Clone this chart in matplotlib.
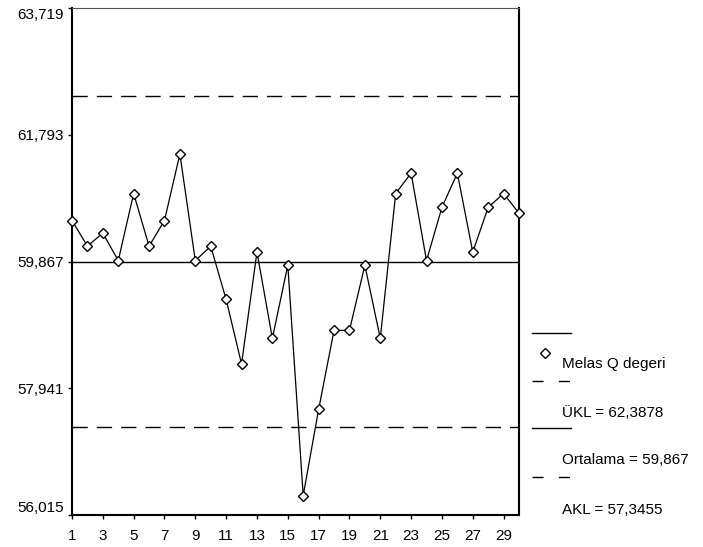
import numpy as np
import matplotlib.pyplot as plt
from matplotlib.lines import Line2D

plt.rcParams["font.family"] = ["Liberation Sans", "DejaVu Sans"]

# Melas Q değerleri (okunan)
orneklem = list(range(1, 31))
q_degeri = [60.49, 60.10, 60.30, 59.88, 60.90, 60.10, 60.49, 61.50, 59.88, 60.10,
            59.29, 58.31, 60.01, 58.70, 59.81, 56.31, 57.62, 58.82, 58.82, 59.81,
            58.70, 60.90, 61.21, 59.88, 60.69, 61.21, 60.01, 60.69, 60.90, 60.60]
ukl = 62.3878
ortalama = 59.867
akl = 57.3455
y_ticks = [56.015, 57.941, 59.867, 61.793, 63.719]
x_ticks = list(range(1, 30, 2))
legend_labels = ["Melas Q degeri", "ÜKL = 62,3878", "Ortalama = 59,867", "AKL = 57,3455"]

W, H = 703, 547
fig = plt.figure(figsize=(W / 100, H / 100), dpi=100)
ax = fig.add_axes([72 / W, 1 - 515 / H, (519 - 72) / W, (515 - 8) / H])

ax.plot(orneklem, q_degeri, color="black", lw=0.9, marker="D", markersize=5,
        markerfacecolor="white", markeredgecolor="black", markeredgewidth=1.0,
        zorder=3, clip_on=False)
ax.axhline(ortalama, color="black", lw=1.0)
ax.axhline(ukl, color="black", lw=1.0, dashes=(11, 6.5))
ax.axhline(akl, color="black", lw=1.0, dashes=(11, 6.5))

ax.set_xlim(1, 30)
ax.set_ylim(56.015, 63.719)
ax.set_xticks(x_ticks)
ax.set_xticklabels([str(x) for x in x_ticks])
ax.set_yticks(y_ticks)
ax.set_yticklabels([("%.3f" % v).replace(".", ",") for v in y_ticks])
ax.tick_params(direction="out", length=3, width=1, labelsize=11, pad=3)
ax.tick_params(axis="x", pad=7)
ylabs = ax.get_yticklabels()
ylabs[0].set_va("bottom")
ylabs[-1].set_va("top")

for s in ["left", "bottom", "right"]:
    ax.spines[s].set_linewidth(1.5)
ax.spines["top"].set_linewidth(0.8)
ax.spines["top"].set_color("#555555")

# legend drawn by hand (SPSS style)
def fx(px):
    return px / W

def fy(py):
    return 1 - py / H

x0, x1 = 532, 571
line_y = [333, 381, 428, 477]
text_y = [364, 413, 460, 510]
styles = ["-", "--", "-", "--"]
for ly, ty, st, lab in zip(line_y, text_y, styles, legend_labels):
    kw = dict(color="black", lw=1.0)
    if st == "--":
        kw["dashes"] = (8, 11)
    fig.add_artist(Line2D([fx(x0), fx(x1)], [fy(ly), fy(ly)], transform=fig.transFigure, **kw))
    fig.text(fx(562), fy(ty), lab, fontsize=11, va="center", ha="left")
fig.add_artist(Line2D([fx(545)], [fy(353)], transform=fig.transFigure, marker="D",
                      markersize=5, markerfacecolor="white", markeredgecolor="black",
                      markeredgewidth=1.0, linestyle="none"))

plt.savefig("out.png", dpi=100)
